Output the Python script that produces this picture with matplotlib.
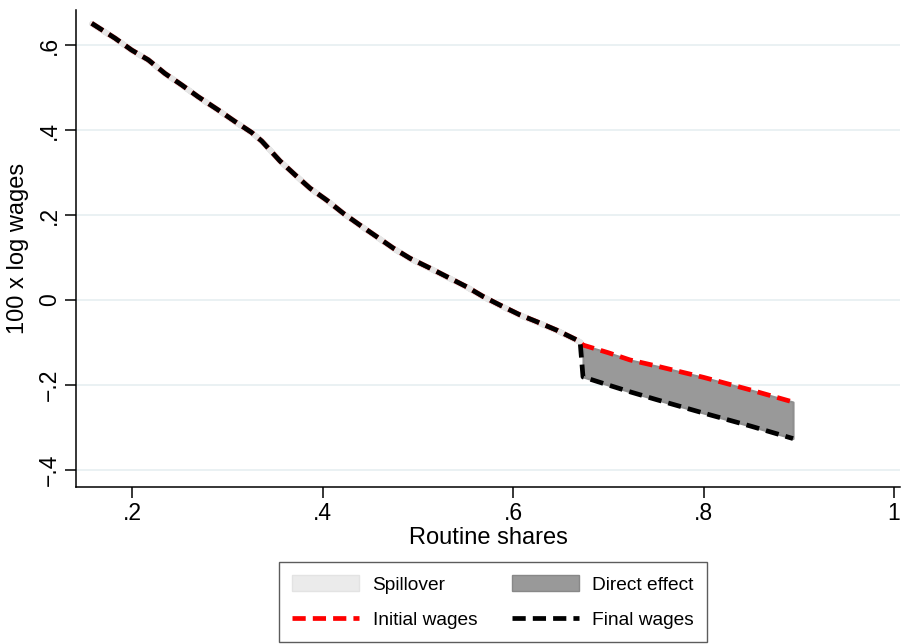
import matplotlib
matplotlib.use("Agg")
import matplotlib.pyplot as plt
from matplotlib.patches import Patch
from matplotlib.lines import Line2D
import numpy as np

plt.rcParams['font.family'] = ['Liberation Sans', 'DejaVu Sans']

# Data
routine_share = [0.1577, 0.1822, 0.1997, 0.2171, 0.2346, 0.2522, 0.2696, 0.2906,
                 0.3081, 0.3257, 0.3362, 0.3554, 0.3729, 0.3869, 0.4044, 0.4218,
                 0.4394, 0.4569, 0.4743, 0.4919, 0.5129, 0.5304, 0.5514, 0.5688,
                 0.5863, 0.6073, 0.6249, 0.6459, 0.6669, 0.6705,
                 0.6735, 0.70, 0.7228, 0.75, 0.789, 0.80, 0.85, 0.894]
initial_wages = [0.651, 0.616, 0.588, 0.565, 0.533, 0.506, 0.478, 0.447,
                 0.420, 0.394, 0.374, 0.327, 0.291, 0.263, 0.235, 0.204,
                 0.176, 0.149, 0.122, 0.098, 0.075, 0.055, 0.031, 0.008,
                 -0.012, -0.035, -0.051, -0.071, -0.094, -0.099,
                 -0.106, -0.124, -0.141, -0.155, -0.176, -0.182, -0.212, -0.240]
final_wages = [0.651, 0.616, 0.588, 0.565, 0.533, 0.506, 0.478, 0.447,
               0.420, 0.394, 0.374, 0.327, 0.291, 0.263, 0.235, 0.204,
               0.176, 0.149, 0.122, 0.098, 0.075, 0.055, 0.031, 0.008,
               -0.012, -0.035, -0.051, -0.071, -0.094, -0.099,
               -0.181, -0.200, -0.216, -0.234, -0.259, -0.266, -0.297, -0.326]
threshold = 0.672

x_ticks = [0.2, 0.4, 0.6, 0.8, 1.0]
x_tick_labels = ['.2', '.4', '.6', '.8', '1']
y_ticks = [-0.4, -0.2, 0.0, 0.2, 0.4, 0.6]
y_tick_labels = ['\u2212.4', '\u2212.2', '0', '.2', '.4', '.6']

x = np.array(routine_share)
yi = np.array(initial_wages)
yf = np.array(final_wages)

fig = plt.figure(figsize=(9.02, 6.44), dpi=100)
ax = fig.add_axes([76/902, 1-487/644, (900-76)/902, (487-10)/644])

left = x <= threshold
right = x >= threshold

ax.fill_between(x[left], yi[left], yf[left], facecolor='#ebebeb', edgecolor='#e6e6e6',
                linewidth=4.2, zorder=2)
ax.fill_between(x[right], yi[right], yf[right], facecolor='#999999', edgecolor='#8f8f8f',
                linewidth=1.5, zorder=2)

lw = 3.4
dash = (2.8, 1.5)
ax.plot(x, yi, color='#ff0000', linewidth=lw, linestyle=(0, dash),
        dash_capstyle='butt', zorder=3)
ax.plot(x, yf, color='#000000', linewidth=lw, linestyle=(0, dash),
        dash_capstyle='butt', zorder=4)

ax.set_xlim(0.1412, 1.0063)
ax.set_ylim(-0.44, 0.6824)
ax.set_xticks(x_ticks)
ax.set_xticklabels(x_tick_labels)
ax.set_yticks(y_ticks)
ax.set_yticklabels(y_tick_labels, rotation=90, va='center')

for yv in y_ticks:
    ax.axhline(yv, color='#e8f0f2', linewidth=1.3, zorder=1)

for s in ['top', 'right']:
    ax.spines[s].set_visible(False)
for s in ['left', 'bottom']:
    ax.spines[s].set_linewidth(1.1)
    ax.spines[s].set_color('#000000')
ax.tick_params(axis='both', direction='out', length=8, width=1.1, labelsize=16.5, pad=3)

ax.set_xlabel('Routine shares', fontsize=17, labelpad=1)
ax.set_ylabel('100 x log wages', fontsize=17, labelpad=6)

handles = [Patch(facecolor='#ebebeb', edgecolor='#e3e3e3', linewidth=1),
           Line2D([0], [0], color='#ff0000', linewidth=lw, linestyle=(0, dash), dash_capstyle='butt'),
           Patch(facecolor='#999999', edgecolor='#888888', linewidth=1),
           Line2D([0], [0], color='#000000', linewidth=lw, linestyle=(0, dash), dash_capstyle='butt')]
labels = ['Spillover', 'Initial wages', 'Direct effect', 'Final wages']
leg = fig.legend(handles, labels, ncol=2, loc='upper center',
                 bbox_to_anchor=(493/902, 1-562/644), fontsize=13.8,
                 frameon=True, fancybox=False, edgecolor='#333333',
                 handlelength=3.5, handleheight=0.9, handletextpad=0.7,
                 columnspacing=1.8, labelspacing=0.85, borderpad=0.7,
                 borderaxespad=0)
leg.get_frame().set_linewidth(1.0)

fig.savefig('out.png', dpi=100)
